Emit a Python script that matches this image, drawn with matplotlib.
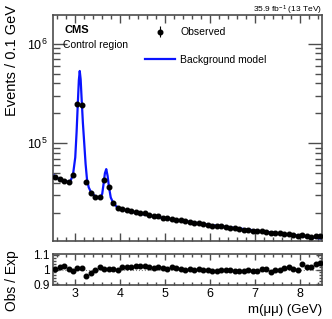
import matplotlib
matplotlib.use("Agg")
import matplotlib.pyplot as plt
import numpy as np
from matplotlib.ticker import MultipleLocator, LogLocator, FixedLocator, FixedFormatter, NullFormatter

plt.rcParams['font.family'] = ['Liberation Sans', 'DejaVu Sans']
plt.rcParams['mathtext.fontset'] = 'custom'
plt.rcParams['mathtext.rm'] = 'Liberation Sans'
plt.rcParams['mathtext.it'] = 'Liberation Sans:italic'

# bin centres, 0.1 GeV bins from 2.5 to 8.5
mass = np.round(np.arange(2.55, 8.5, 0.1), 2)

obs = [46200, 43900, 42100, 41100, 48100, 248000, 243000, 41100, 31500, 29100,
       28700, 42900, 36600, 25000, 22600,
       22000, 21500, 21000, 20600, 20100, 19700, 19200, 18600, 18500, 17900,
       17550, 17500, 17050, 16750, 16400, 16300, 15950, 15800, 15450, 15100,
       14850, 14650, 14650, 14400, 14200, 13950, 13800, 13600, 13550, 13250,
       13050, 13100, 12950, 12550, 12550, 12400, 12350, 12300, 12000, 11800,
       12100, 11700, 11550, 11700, 11600]

ratio = [1.005, 1.02, 1.025, 1.005, 0.99, 1.01, 1.01, 0.955, 0.975, 1.0,
         1.015, 1.005, 1.005, 1.005, 1.0,
         1.02, 1.02, 1.02, 1.025, 1.025, 1.025, 1.02, 1.01, 1.02, 1.01,
         1.005, 1.02, 1.01, 1.005, 1.0, 1.005, 1.0, 1.005, 1.0, 0.995,
         0.99, 0.99, 1.0, 0.995, 0.995, 0.99, 0.99, 0.99, 0.995, 0.99,
         0.99, 1.005, 1.005, 0.985, 0.995, 1.0, 1.01, 1.015, 1.005, 1.0,
         1.035, 1.015, 1.015, 1.04, 1.045]

# background model curve
model_m = [2.50, 2.55, 2.65, 2.75, 2.85, 2.90, 2.95, 3.00, 3.03, 3.06, 3.08, 3.10,
           3.12, 3.14, 3.17, 3.20, 3.23, 3.26, 3.30, 3.35, 3.45, 3.55, 3.60, 3.63,
           3.66, 3.69, 3.72, 3.75, 3.79, 3.85, 3.95, 4.05, 4.25, 4.50, 4.75, 5.00,
           5.25, 5.50, 5.75, 6.00, 6.25, 6.50, 6.75, 7.00, 7.25, 7.50, 7.75, 8.00,
           8.25, 8.50]
model_y = [48800, 46400, 43300, 41600, 41000, 42500, 48500, 72000, 130000, 270000,
           430000, 532000, 440000, 290000, 160000, 100000, 62000, 44000, 36000, 32300,
           29100, 28300, 31000, 39000, 50000, 55000, 47000, 36400, 28500, 24900,
           22400, 21600, 20600, 19400, 18400, 17600, 16900, 16300, 15700, 15100,
           14650, 14200, 13750, 13300, 12900, 12500, 12100, 11750, 11400, 11000]

ratio_ticks = [0.9, 1.0, 1.1]
ratio_labels = ['0.9', '1', '1.1']

fig = plt.figure(figsize=(3.32, 3.19), dpi=100)
ax = fig.add_axes([0.159, 0.2455, 0.812, 0.708])
ax2 = fig.add_axes([0.159, 0.1066, 0.812, 0.097])

frame_col = '0.3'
for a in (ax, ax2):
    for s in a.spines.values():
        s.set_color(frame_col)
        s.set_linewidth(1.2)
    a.tick_params(which='both', direction='in', top=True, right=True, colors=frame_col,
                  labelcolor='black', labelsize=9)

# main panel
ax.plot(model_m, model_y, color='#0a14ff', lw=1.6, label='Background model', zorder=2)
eb = ax.errorbar(mass, obs, yerr=np.sqrt(obs), fmt='o', color='black', ms=3.3,
                 elinewidth=0.8, capsize=0, label='Observed', zorder=3)
ax.set_yscale('log')
ax.set_xlim(2.5, 8.5)
ax.set_ylim(1.05e4, 1.95e6)
ax.xaxis.set_major_locator(MultipleLocator(1))
ax.xaxis.set_minor_locator(MultipleLocator(0.2))
ax.xaxis.set_major_formatter(NullFormatter())
ax.yaxis.set_major_locator(LogLocator(base=10, numticks=10))
ax.yaxis.set_minor_locator(LogLocator(base=10, subs=np.arange(2, 10), numticks=10))
ax.yaxis.set_minor_formatter(NullFormatter())
ax.tick_params(which='major', axis='y', length=10, width=1)
ax.tick_params(which='minor', axis='y', length=5, width=1)
ax.tick_params(which='major', axis='x', length=6, width=1)
ax.tick_params(which='minor', axis='x', length=3, width=1)

ax.set_ylabel('Events / 0.1 GeV', fontsize=10.5, loc='top')
ax.yaxis.set_label_coords(-0.125, 1.043)

ax.text(0.045, 0.935, 'CMS', transform=ax.transAxes, fontsize=8, fontweight='bold',
        ha='left', va='center')
ax.text(0.037, 0.865, 'Control region', transform=ax.transAxes, fontsize=7.5,
        ha='left', va='center')
fig.text(0.971, 0.968, r'35.9 fb$^{-1}$ (13 TeV)', fontsize=6, ha='right', va='center')

handles = [eb, ax.lines[0]]
ax.legend(handles, ['Observed', 'Background model'], loc='upper left',
          bbox_to_anchor=(0.342, 0.945), frameon=False, fontsize=7.5,
          labelspacing=1.7, handlelength=2.9, handletextpad=0.5,
          borderpad=0, borderaxespad=0)

# ratio panel
ax2.axhline(1.0, color='0.5', lw=0.8, ls=':', zorder=1)
ax2.plot(mass, ratio, 'o', color='black', ms=3.3, zorder=3)
ax2.set_xlim(2.5, 8.5)
ax2.set_ylim(0.895, 1.105)
ax2.xaxis.set_major_locator(MultipleLocator(1))
ax2.xaxis.set_minor_locator(MultipleLocator(0.2))
ax2.yaxis.set_major_locator(FixedLocator(ratio_ticks))
ax2.yaxis.set_major_formatter(FixedFormatter(ratio_labels))
ax2.yaxis.set_minor_locator(MultipleLocator(0.02))
ax2.tick_params(which='major', length=4, width=1, pad=2)
ax2.tick_params(which='minor', length=2, width=1)
ax2.tick_params(axis='y', labelsize=8.5)
ax2.set_ylabel('Obs / Exp', fontsize=10, loc='top')
ax2.yaxis.set_label_coords(-0.125, 1.13)
ax2.set_xlabel('m(μμ) (GeV)', fontsize=9.5, loc='right')
ax2.xaxis.set_label_coords(1.0, -0.6)

fig.savefig('out.png', dpi=100)
